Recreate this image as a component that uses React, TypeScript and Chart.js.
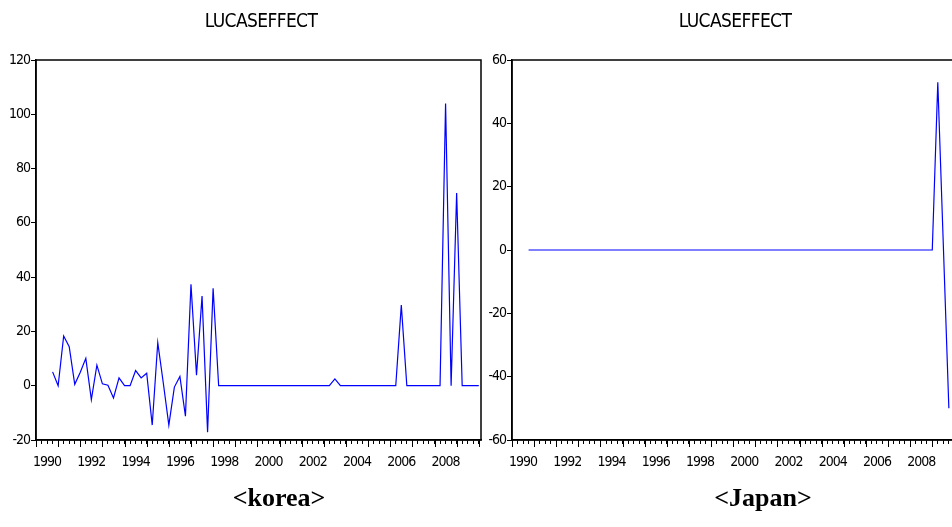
import React, { useEffect, useRef } from 'react';
import { Chart, registerables } from 'chart.js';

Chart.register(...registerables);

// ---- data ----
const firstQuarter = '1990Q4';
const yearLabels = [1990, 1992, 1994, 1996, 1998, 2000, 2002, 2004, 2006, 2008];
const axisYears = [1990, 1991, 1992, 1993, 1994, 1995, 1996, 1997, 1998, 1999, 2000, 2001, 2002, 2003, 2004, 2005, 2006, 2007, 2008, 2009, 2010];

const koreaValues = [
  5.1, 0, 18.3, 14.4, 0.5, 5, 10.1, -5.1, 7.6, 0.7,
  0.2, -4.5, 2.9, 0, 0, 5.6, 2.9, 4.6, -14.5, 15.9,
  1, -14.5, -0.5, 3.4, -11.2, 37.4, 3.9, 33, -17.1, 35.9,
  0, 0, 0, 0, 0, 0, 0, 0, 0, 0,
  0, 0, 0, 0, 0, 0, 0, 0, 0, 0,
  0, 2.5, 0, 0, 0, 0, 0, 0, 0, 0,
  0, 0, 0, 29.7, 0, 0, 0, 0, 0, 0,
  0, 104, 0, 71, 0, 0, 0, 0,
];

const japanValues = [
  0, 0, 0, 0, 0, 0, 0, 0, 0, 0,
  0, 0, 0, 0, 0, 0, 0, 0, 0, 0,
  0, 0, 0, 0, 0, 0, 0, 0, 0, 0,
  0, 0, 0, 0, 0, 0, 0, 0, 0, 0,
  0, 0, 0, 0, 0, 0, 0, 0, 0, 0,
  0, 0, 0, 0, 0, 0, 0, 0, 0, 0,
  0, 0, 0, 0, 0, 0, 0, 0, 0, 0,
  0, 0, 0, 0, 53, 1.5, -50,
];

const koreaYTicks = [-20, 0, 20, 40, 60, 80, 100, 120];
const japanYTicks = [-60, -40, -20, 0, 20, 40, 60];

const seriesTitle = 'LUCASEFFECT';
const koreaCaption = '<korea>';
const japanCaption = '<Japan>';

// ---- helpers ----
const NARROW = "'Liberation Sans Narrow', 'Arial Narrow', 'DejaVu Sans Condensed', 'Liberation Sans', Arial, sans-serif";

function quarterList(start: string, count: number): string[] {
  const [ys, qs] = start.split('Q');
  let y = +ys;
  let q = +qs;
  const out: string[] = [];
  for (let i = 0; i < count; i++) {
    out.push(`${y}Q${q}`);
    q++;
    if (q > 4) { q = 1; y++; }
  }
  return out;
}

function quarterTime(label: string): number {
  const [ys, qs] = label.split('Q');
  return +ys + (+qs - 1) / 4;
}

const quarterTicks: number[] = [];
for (let i = 0; i < axisYears.length - 1; i++) {
  for (let k = 0; k < 4; k++) quarterTicks.push(axisYears[i] + k / 4);
}
quarterTicks.push(axisYears[axisYears.length - 1]);

const framePlugin = {
  id: 'eviewsFrame',
  beforeDraw(chart: any) {
    const ctx = chart.ctx;
    ctx.letterSpacing = '-1px';
  },
  afterDraw(chart: any) {
    const ctx = chart.ctx;
    const a = chart.chartArea;
    const xs = chart.scales.x;
    ctx.save();
    ctx.letterSpacing = '0px';
    ctx.strokeStyle = '#000';
    ctx.lineWidth = 1.5;
    ctx.strokeRect(a.left, a.top, a.right - a.left, a.bottom - a.top);
    ctx.lineWidth = 1;
    ctx.beginPath();
    for (const yr of axisYears) {
      const px = Math.round(xs.getPixelForValue(yr)) + 0.5;
      ctx.moveTo(px, a.bottom);
      ctx.lineTo(px, a.bottom + 7);
    }
    ctx.stroke();
    ctx.restore();
  },
};

function makeConfig(values: number[], yTicks: number[], yWidth: number, rightPad: number, bottomY: number, height: number) {
  const quarters = quarterList(firstQuarter, values.length);
  const points = values.map((v, i) => ({ x: quarterTime(quarters[i]), y: v }));
  return {
    type: 'line' as const,
    data: {
      datasets: [
        {
          data: points,
          borderColor: '#0000ff',
          borderWidth: 1.2,
          pointRadius: 0,
          tension: 0,
          fill: false,
        },
      ],
    },
    options: {
      animation: false as const,
      responsive: false,
      maintainAspectRatio: false,
      devicePixelRatio: 1,
      layout: { padding: { left: 0, right: rightPad, top: 60, bottom: 0 } },
      plugins: {
        legend: { display: false },
        tooltip: { enabled: false },
        title: { display: false },
      },
      scales: {
        x: {
          type: 'linear' as const,
          min: axisYears[0],
          max: axisYears[axisYears.length - 1] + 0.1,
          afterBuildTicks: (s: any) => {
            s.ticks = quarterTicks.map((v) => ({ value: v }));
          },
          afterFit: (s: any) => {
            s.height = height - bottomY;
          },
          ticks: {
            autoSkip: false,
            maxRotation: 0,
            minRotation: 0,
            padding: 10,
            color: '#000',
            font: { family: NARROW, size: 14 },
            callback: (v: number) => {
              const y = v - 0.5;
              return yearLabels.includes(y) ? String(y) : '';
            },
          },
          grid: { drawOnChartArea: false, drawTicks: true, tickLength: 4, color: '#000', lineWidth: 1 },
          border: { display: true, color: '#000', width: 1.5 },
        },
        y: {
          type: 'linear' as const,
          min: yTicks[0],
          max: yTicks[yTicks.length - 1],
          afterBuildTicks: (s: any) => {
            s.ticks = yTicks.map((v) => ({ value: v }));
          },
          afterFit: (s: any) => {
            s.width = yWidth;
          },
          ticks: {
            padding: 1,
            color: '#000',
            font: { family: NARROW, size: 14 },
          },
          grid: { drawOnChartArea: false, drawTicks: true, tickLength: 5, color: '#000', lineWidth: 1 },
          border: { display: true, color: '#000', width: 1.5 },
        },
      },
    },
    plugins: [framePlugin],
  };
}

function Panel(props: { left: number; width: number; values: number[]; yTicks: number[]; yWidth: number; rightPad: number }) {
  const ref = useRef<HTMLCanvasElement>(null);
  useEffect(() => {
    if (!ref.current) return;
    const chart = new Chart(ref.current, makeConfig(props.values, props.yTicks, props.yWidth, props.rightPad, 440, 527) as any);
    return () => chart.destroy();
  }, []);
  return (
    <canvas
      ref={ref}
      width={props.width}
      height={527}
      style={{ position: 'absolute', left: props.left, top: 0, width: props.width, height: 527 }}
    />
  );
}

const titleStyle = (center: number): React.CSSProperties => ({
  position: 'absolute',
  left: center - 100,
  width: 200,
  top: 11,
  textAlign: 'center',
  fontFamily: NARROW,
  fontSize: 19,
  lineHeight: '19px',
  letterSpacing: '-0.6px',
  color: '#000',
  whiteSpace: 'nowrap',
});

const captionStyle = (center: number): React.CSSProperties => ({
  position: 'absolute',
  left: center - 100,
  width: 200,
  top: 485,
  textAlign: 'center',
  fontFamily: "'Liberation Serif', 'Times New Roman', serif",
  fontWeight: 'bold',
  fontSize: 26,
  lineHeight: '26px',
  color: '#000',
  whiteSpace: 'nowrap',
});

export default function App() {
  return (
    <div style={{ position: 'absolute', left: 0, top: 0, width: 952, height: 527, overflow: 'hidden', background: '#fff' }}>
      <Panel left={0} width={490} values={koreaValues} yTicks={koreaYTicks} yWidth={36} rightPad={9} />
      <Panel left={470} width={500} values={japanValues} yTicks={japanYTicks} yWidth={42} rightPad={13.4} />
      <div style={titleStyle(261)}>{seriesTitle}</div>
      <div style={titleStyle(735)}>{seriesTitle}</div>
      <div style={captionStyle(279)}>{koreaCaption}</div>
      <div style={captionStyle(763)}>{japanCaption}</div>
    </div>
  );
}
